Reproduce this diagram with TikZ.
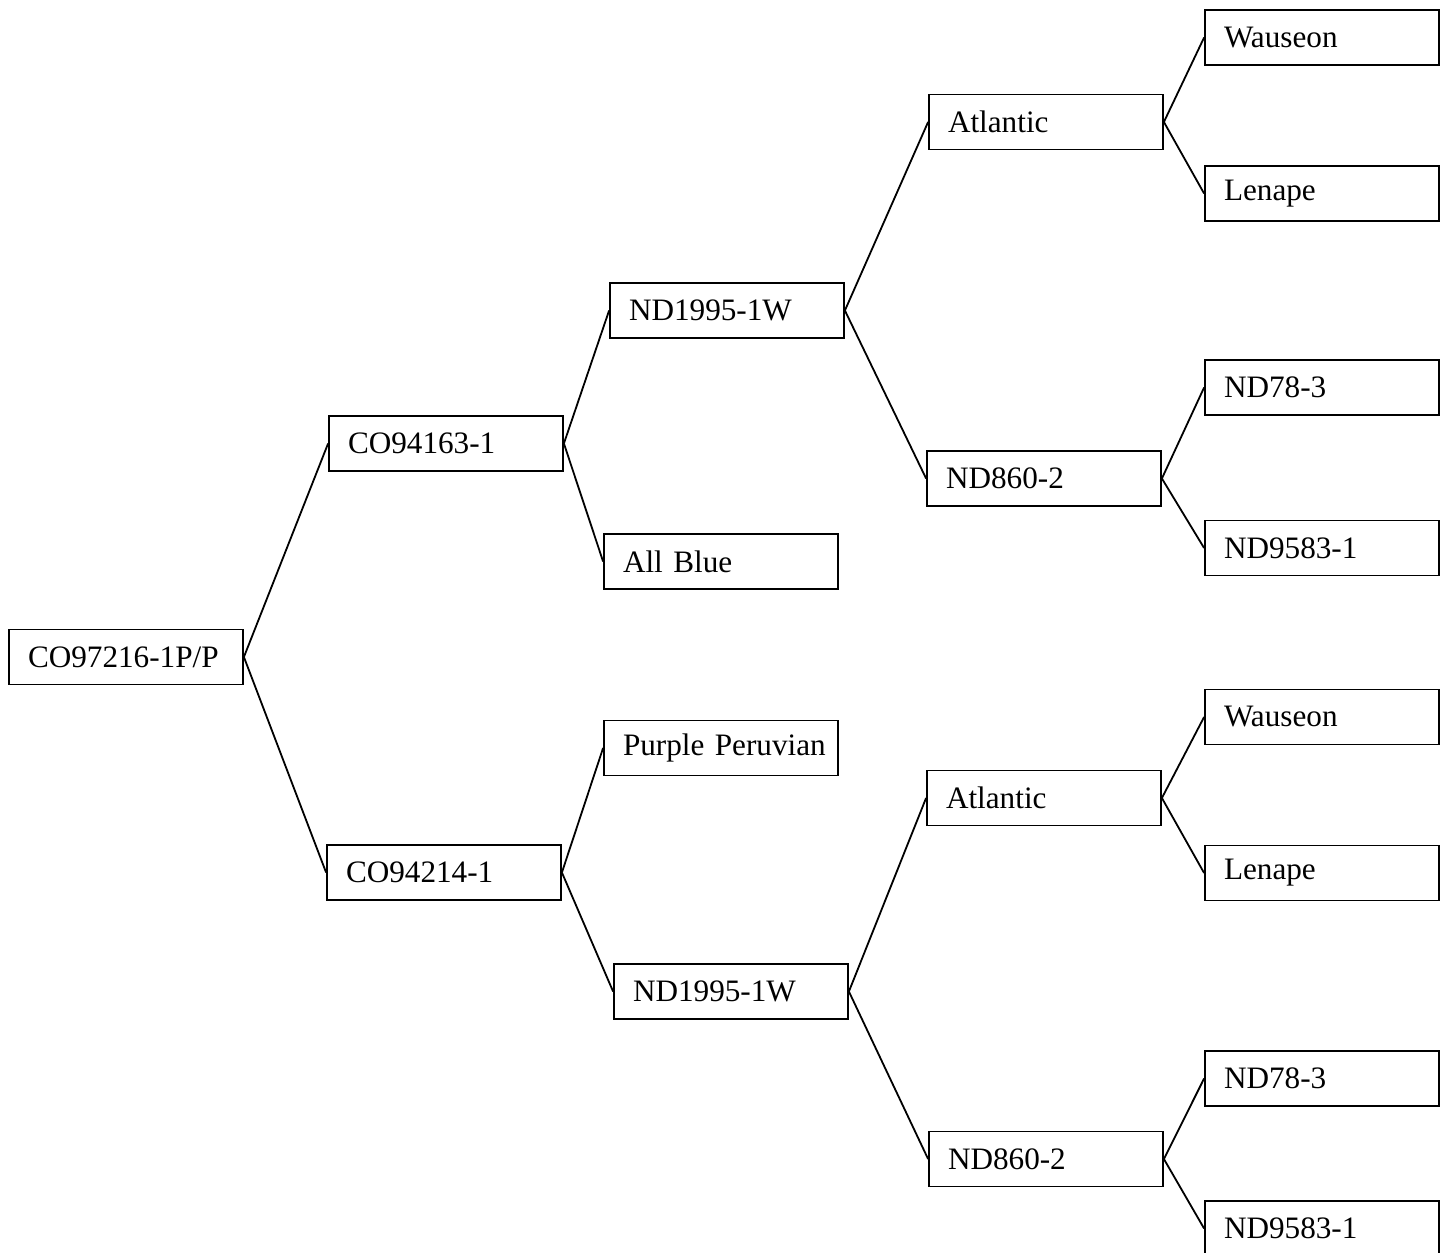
\documentclass[tikz,border=0pt]{standalone}
\usepackage{fontspec}
\setmainfont{Liberation Serif}
\usepackage{tikz}
\tikzset{
	cultivar/.style={draw, line width=0.9pt, text width=98pt, inner xsep=9.5pt, minimum height=27.5pt, align=left, font=\fontsize{15.6}{19}\selectfont},
	link/.style={line width=0.9pt}
}

\begin{document}
\begin{tikzpicture}[x=0.5pt, y=-0.5pt]
			%%%%% START %%%%%
			\useasboundingbox (0, 0) rectangle (1447, 1253);
			
			\node[cultivar] (root) at (126, 657) {CO97216-1P/P};
			
			\node[cultivar] (coA) at (446, 443.5) {CO94163-1};
			\node[cultivar] (coB) at (444, 872.5) {CO94214-1};
			
			\node[cultivar] (ndA) at (727, 310.5) {ND1995-1W};
			\node[cultivar] (blue) at (721, 561.5) {All Blue};
			\node[cultivar] (purple) at (721, 748) {\mbox{Purple Peruvian}};
			\node[cultivar] (ndB) at (731, 991.5) {ND1995-1W};
			
			\node[cultivar] (atlA) at (1046, 122) {Atlantic};
			\node[cultivar] (eightA) at (1044, 478.5) {ND860-2};
			\node[cultivar] (atlB) at (1044, 798) {Atlantic};
			\node[cultivar] (eightB) at (1046, 1159) {ND860-2};
			
			\node[cultivar] (wauA) at (1322, 37.5) {Wauseon};
			\node[cultivar] (lenA) at (1322, 193.5) {Lenape};
			\node[cultivar] (sevA) at (1322, 387.5) {ND78-3};
			\node[cultivar] (nineA) at (1322, 548) {ND9583-1};
			\node[cultivar] (wauB) at (1322, 717) {Wauseon};
			\node[cultivar] (lenB) at (1322, 873) {Lenape};
			\node[cultivar] (sevB) at (1322, 1078.5) {ND78-3};
			\node[cultivar] (nineB) at (1322, 1228.5) {ND9583-1};
			
			\draw[link] (root.east) -- (coA.west);
			\draw[link] (root.east) -- (coB.west);
			\draw[link] (coA.east) -- (ndA.west);
			\draw[link] (coA.east) -- (blue.west);
			\draw[link] (coB.east) -- (purple.west);
			\draw[link] (coB.east) -- (ndB.west);
			\draw[link] (ndA.east) -- (atlA.west);
			\draw[link] (ndA.east) -- (eightA.west);
			\draw[link] (ndB.east) -- (atlB.west);
			\draw[link] (ndB.east) -- (eightB.west);
			\draw[link] (atlA.east) -- (wauA.west);
			\draw[link] (atlA.east) -- (lenA.west);
			\draw[link] (eightA.east) -- (sevA.west);
			\draw[link] (eightA.east) -- (nineA.west);
			\draw[link] (atlB.east) -- (wauB.west);
			\draw[link] (atlB.east) -- (lenB.west);
			\draw[link] (eightB.east) -- (sevB.west);
			\draw[link] (eightB.east) -- (nineB.west);
			%%%%% END %%%%%
		\end{tikzpicture}
\end{document}
